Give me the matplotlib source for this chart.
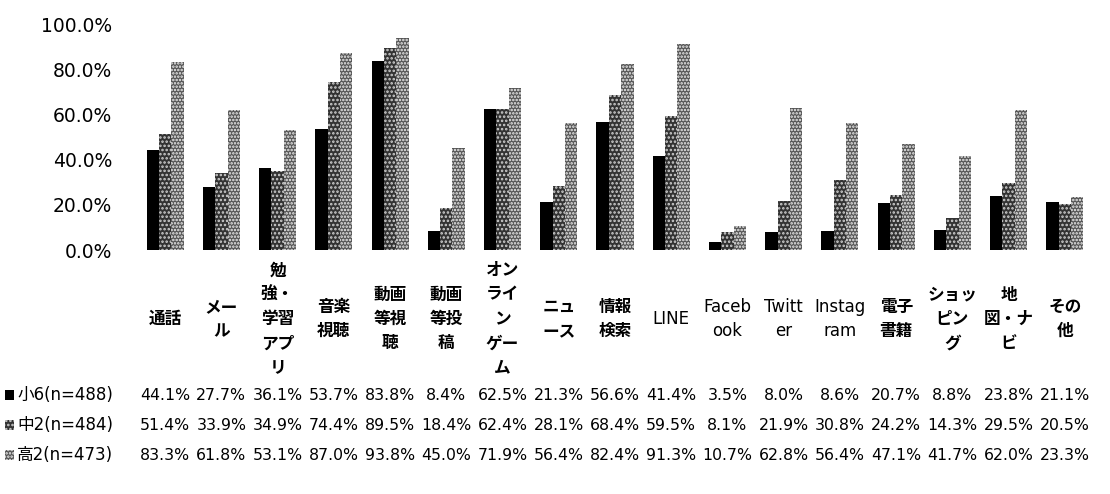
import numpy as np
import matplotlib.pyplot as plt
import matplotlib.transforms as mtrans
from matplotlib.ticker import FuncFormatter

plt.rcParams['font.family'] = ['DejaVu Sans', 'Noto Sans CJK JP']
plt.rcParams['hatch.linewidth'] = 1.2

categories = ['通話', 'メー\nル', '勉\n強・\n学習\nアプ\nリ', '音楽\n視聴', '動画\n等視\n聴',
              '動画\n等投\n稿', 'オン\nライ\nン\nゲー\nム', 'ニュ\nース', '情報\n検索', 'LINE',
              'Faceb\nook', 'Twitt\ner', 'Instag\nram', '電子\n書籍', 'ショッ\nピン\nグ',
              '地\n図・ナ\nビ', 'その\n他']
series_names = ['小6(n=488)', '中2(n=484)', '高2(n=473)']
sho6 = [44.1, 27.7, 36.1, 53.7, 83.8, 8.4, 62.5, 21.3, 56.6, 41.4, 3.5, 8.0, 8.6, 20.7, 8.8, 23.8, 21.1]
chu2 = [51.4, 33.9, 34.9, 74.4, 89.5, 18.4, 62.4, 28.1, 68.4, 59.5, 8.1, 21.9, 30.8, 24.2, 14.3, 29.5, 20.5]
kou2 = [83.3, 61.8, 53.1, 87.0, 93.8, 45.0, 71.9, 56.4, 82.4, 91.3, 10.7, 62.8, 56.4, 47.1, 41.7, 62.0, 23.3]

fig = plt.figure(figsize=(11.1, 4.94), dpi=100)
ax = fig.add_axes([137/1110, 1 - 250/494, (1093-137)/1110, (250-24)/494])

x = np.arange(len(categories))
w = 0.22
styles = [dict(color='black', linewidth=0),
          dict(facecolor='#333333', edgecolor='#d0d0d0', hatch='....', linewidth=0),
          dict(facecolor='#555555', edgecolor='#f0f0f0', hatch='.....', linewidth=0)]
for i, vals in enumerate([sho6, chu2, kou2]):
    ax.bar(x + (i - 1) * w, vals, w, **styles[i])

ax.set_xlim(-0.5, len(categories) - 0.5)
ax.set_ylim(0, 100)
ax.set_yticks(np.arange(0, 101, 20))
ax.yaxis.set_major_formatter(FuncFormatter(lambda v, p: f'{v:.1f}%'))
ax.tick_params(axis='y', length=0, labelsize=13.5, pad=18)
ax.set_xticks([])
for s in ax.spines.values():
    s.set_visible(False)

# category labels (japanese ones look heavier in the original)
for xi, lab in zip(x, categories):
    jp = any(ord(c) > 255 for c in lab)
    ax.text(xi, -30.5, lab, ha='center', va='center', fontsize=12,
            weight='bold' if jp else 'normal', linespacing=1.45, clip_on=False)

# data table
row_y = [1 - 395/494, 1 - 425/494, 1 - 455/494]
trans = mtrans.blended_transform_factory(ax.transData, fig.transFigure)
for r, (name, vals) in enumerate(zip(series_names, [sho6, chu2, kou2])):
    fy = row_y[r]
    fig.patches.append(plt.Rectangle((5/1110, fy - 5/494), 9/1110, 10/494,
                                     transform=fig.transFigure, **styles[r]))
    fig.text(17/1110, fy, name, ha='left', va='center', fontsize=12)
    for xi, v in zip(x, vals):
        ax.text(xi, fy, f'{v:.1f}%', ha='center', va='center', fontsize=11.3,
                transform=trans)

fig.savefig('out.png', dpi=100)
